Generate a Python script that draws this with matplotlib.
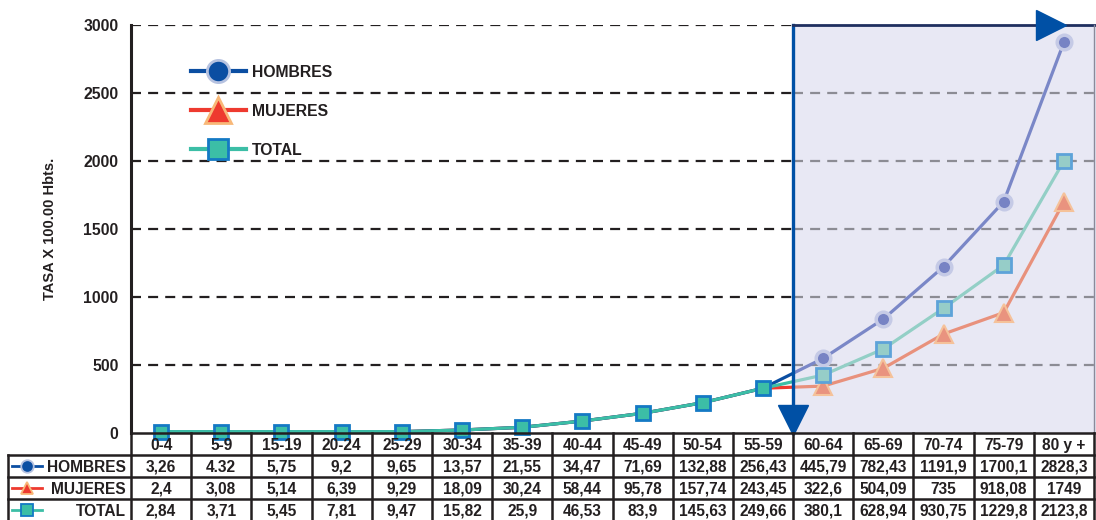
import matplotlib
matplotlib.use("Agg")
import matplotlib.pyplot as plt
from matplotlib.lines import Line2D
from matplotlib.patches import Rectangle

plt.rcParams["font.family"] = ["Liberation Sans", "DejaVu Sans"]
plt.rcParams["font.weight"] = "bold"

grupos = ["0-4", "5-9", "15-19", "20-24", "25-29", "30-34", "35-39", "40-44",
          "45-49", "50-54", "55-59", "60-64", "65-69", "70-74", "75-79", "80 y +"]

# values as drawn in the chart
hombres_graf = [10, 10, 10, 10, 10, 22, 42, 88, 145, 223, 329, 549, 838, 1223, 1701, 2873]
mujeres_graf = [10, 10, 10, 10, 10, 22, 42, 88, 145, 223, 329, 345, 476, 728, 885, 1700]
total_graf = [10, 10, 10, 10, 10, 22, 42, 88, 145, 223, 329, 426, 618, 917, 1235, 2000]

# values printed in the table
hombres_tab = ["3,26", "4.32", "5,75", "9,2", "9,65", "13,57", "21,55", "34,47", "71,69",
               "132,88", "256,43", "445,79", "782,43", "1191,9", "1700,1", "2828,3"]
mujeres_tab = ["2,4", "3,08", "5,14", "6,39", "9,29", "18,09", "30,24", "58,44", "95,78",
               "157,74", "243,45", "322,6", "504,09", "735", "918,08", "1749"]
total_tab = ["2,84", "3,71", "5,45", "7,81", "9,47", "15,82", "25,9", "46,53", "83,9",
             "145,63", "249,66", "380,1", "628,94", "930,75", "1229,8", "2123,8"]

# (name, table values, plotted values, dark style, light style inside the shaded block)
series = [
    ("HOMBRES", hombres_tab, hombres_graf,
     dict(color="#0B4EA2", marker="o", mfc="#0B4EA2", mec="#B6C2E0"),
     dict(color="#7A87C7", marker="o", mfc="#7783C4", mec="#C5CAE6", ms=10.5, mew=2.5)),
    ("MUJERES", mujeres_tab, mujeres_graf,
     dict(color="#EE3A2F", marker="^", mfc="#EE3A2F", mec="#F8B878"),
     dict(color="#E8917C", marker="^", mfc="#E9937F", mec="#F5C29A", ms=13, mew=1.5)),
    ("TOTAL", total_tab, total_graf,
     dict(color="#3CBEA6", marker="s", mfc="#3CBEA6", mec="#1479C4"),
     dict(color="#93CFC6", marker="s", mfc="#96CDC8", mec="#5DA3D9", ms=9.5, mew=2)),
]

TXT = "#231F20"
SPLIT = 10.5
W, H = 1096, 520
fig = plt.figure(figsize=(W / 100, H / 100), dpi=100)
ax = fig.add_axes([131 / W, (H - 433) / H, 963 / W, 408 / H])
x = list(range(len(grupos)))

ax.set_xlim(-0.5, 15.5)
ax.set_ylim(0, 3000)

# shaded block for 60+
ax.add_patch(Rectangle((SPLIT, 0), 5.2, 3000, facecolor="#E8E8F4", edgecolor="none",
                       zorder=0.5, clip_on=False))

for y in [500, 1000, 1500, 2000, 2500, 3000]:
    ax.plot([-0.5, SPLIT], [y, y], color="#231F20", lw=1.6, ls=(0, (4.5, 3.2)), zorder=1)
    ax.plot([SPLIT, 15.5], [y, y], color="#8C8C94", lw=1.6, ls=(0, (4.5, 3.2)), zorder=1)

clip_left = Rectangle((-1, -300), SPLIT + 1, 3600, transform=ax.transData)
clip_right = Rectangle((SPLIT, -300), 6, 3600, transform=ax.transData)
for z, (name, _, vals, dark, light) in zip([3, 3.1, 3.2], [series[1], series[0], series[2]]):
    st = dict(dark)
    if name != "TOTAL":
        st["marker"] = None
    ln, = ax.plot(x, vals, lw=2.3, ms=9.5, mew=2, zorder=z, clip_on=True, **st)
    ln.set_clip_path(clip_left)
    ln2, = ax.plot(x, vals, lw=2.3, zorder=z, clip_on=True, **light)
    ln2.set_clip_path(clip_right)

ax.set_yticks([0, 500, 1000, 1500, 2000, 2500, 3000])
ax.set_xticks([])
ax.tick_params(axis="y", length=0, pad=9, labelsize=11.3, labelcolor=TXT)
for lab in ax.get_yticklabels():
    lab.set_fontweight("bold")
for s in ["top", "right", "bottom"]:
    ax.spines[s].set_visible(False)
ax.spines["left"].set_linewidth(2.2)
ax.spines["left"].set_color(TXT)
ax.set_ylabel("TASA X 100.00 Hbts.", fontsize=10.5, fontweight="bold", color=TXT, labelpad=19)

# borders and arrows of the shaded block
ax.plot([SPLIT, SPLIT], [0, 3000], color="#0050A5", lw=2.4, zorder=6, clip_on=False)
ax.plot([SPLIT, 15.7], [3000, 3000], color="#1F2F5F", lw=2, zorder=6, clip_on=False)
ax.plot([15.5, 15.5], [0, 3000], color="#8A8A9A", lw=1, zorder=6, clip_on=False)
ax.plot([14.78], [3000], marker=">", ms=21, color="#0050A5", zorder=7, clip_on=False)
ax.plot([SPLIT], [92], marker="v", ms=21, color="#0050A5", zorder=7, clip_on=False)

# legend
handles = []
for name, _, _, st, _ in series:
    ms = {"o": 16, "^": 19, "s": 15}[st["marker"]]
    handles.append(Line2D([], [], lw=3, ms=ms, mew=2, **st))
ax.legend(handles, [s[0] for s in series], loc="upper left", bbox_to_anchor=(0.062, 0.902),
          frameon=False, handlelength=3.5, handletextpad=0.4,
          labelspacing=1.52, borderpad=0, borderaxespad=0,
          prop=dict(weight="bold", size=11.3))
for t in ax.get_legend().get_texts():
    t.set_color(TXT)

# data table below the plot
cw = 963 / 16
xl = -0.5 - (131 - 8) / cw
tax = fig.add_axes([8 / W, (H - 521) / H, (1094 - 8) / W, 88 / H])
tax.set_xlim(xl, 15.5)
tax.set_ylim(4, 0)
tax.axis("off")
lk = dict(color=TXT, lw=1.8, clip_on=False, solid_capstyle="projecting")
tax.plot([-0.5, 15.5], [0, 0], **lk)
for r in [1, 2, 3, 4]:
    tax.plot([xl, 15.5], [r, r], **lk)
for k in range(17):
    tax.plot([-0.5 + k, -0.5 + k], [0, 4], **lk)
tax.plot([xl, xl], [1, 4], **lk)

fs = 11.2
for i, g in enumerate(grupos):
    tax.text(i, 0.55, g, ha="center", va="center", fontsize=fs, fontweight="bold", color=TXT)
for r, (name, vals, _, st, _) in enumerate(series, start=1):
    for i, v in enumerate(vals):
        tax.text(i, r + 0.55, v, ha="center", va="center", fontsize=fs, fontweight="bold", color=TXT)
    tax.text(-0.58, r + 0.55, name, ha="right", va="center", fontsize=fs, fontweight="bold", color=TXT)
    x0 = xl + 4 / cw
    x1 = xl + 34 / cw
    tax.plot([x0, x1], [r + 0.5, r + 0.5], lw=2, clip_on=False, color=st["color"])
    tax.plot([(x0 + x1) / 2], [r + 0.5], lw=0, ms=9, mew=1.3, clip_on=False, **st)

fig.savefig("out.png", dpi=100)
